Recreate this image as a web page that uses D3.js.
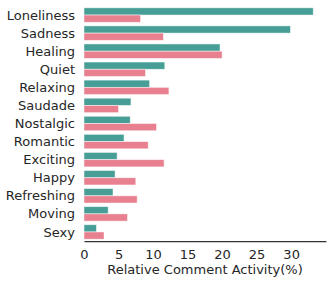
<!DOCTYPE html>
<html>
<head>
<meta charset="utf-8">
<script src="https://cdn.jsdelivr.net/npm/d3@7"></script>
<style>
  body { margin: 0; background: #fff; }
  text { font-family: "DejaVu Sans", sans-serif; fill: #262626; }
</style>
</head>
<body>
<div id="chart"></div>
<script>
// categories, top to bottom
var categories = ["Loneliness", "Sadness", "Healing", "Quiet", "Relaxing", "Saudade",
  "Nostalgic", "Romantic", "Exciting", "Happy", "Refreshing", "Moving", "Sexy"];
// first series (teal) and second series (pink), in %
var tealValues = [33.2, 29.9, 19.7, 11.7, 9.5, 6.8, 6.7, 5.8, 4.8, 4.5, 4.2, 3.5, 1.8];
var pinkValues = [8.2, 11.5, 20.0, 8.9, 12.3, 5.0, 10.5, 9.3, 11.6, 7.5, 7.7, 6.3, 2.9];
var xTicks = [0, 5, 10, 15, 20, 25, 30];

var width = 332, height = 285;
var margin = { top: 6, right: 6, bottom: 44, left: 84 };
var innerW = width - margin.left - margin.right,
    innerH = height - margin.top - margin.bottom;

var svg = d3.select("#chart")
  .append("svg")
  .attr("width", width)
  .attr("height", height)
  .append("g")
  .attr("transform", "translate(" + margin.left + "," + margin.top + ")");

var x = d3.scaleLinear()
  .domain([0, 35.05])
  .range([0, innerW]);

var y = d3.scaleBand()
  .domain(categories)
  .range([0, innerH])
  .paddingInner(0.2)
  .paddingOuter(0.1);

var sub = d3.scaleBand()
  .domain(["teal", "pink"])
  .range([0, y.bandwidth()]);

var series = [
  { key: "teal", values: tealValues, color: "#469e96" },
  { key: "pink", values: pinkValues, color: "#e8808f" }
];

series.forEach(function(s) {
  svg.append("g")
    .selectAll("rect")
    .data(categories)
    .enter()
    .append("rect")
    .attr("x", x(0))
    .attr("y", function(d) { return y(d) + sub(s.key); })
    .attr("width", function(d, i) { return x(s.values[i]) - x(0); })
    .attr("height", sub.bandwidth())
    .attr("fill", s.color)
    .attr("stroke", "#fff")
    .attr("stroke-opacity", 0.6)
    .attr("stroke-width", 0.8);
});

// category labels (no spine on the left)
svg.append("g")
  .selectAll("text")
  .data(categories)
  .enter()
  .append("text")
  .attr("x", -9)
  .attr("y", function(d) { return y(d) + y.bandwidth() / 2; })
  .attr("dy", "0.35em")
  .attr("text-anchor", "end")
  .style("font-size", "13px")
  .text(function(d) { return d; });

// bottom axis: spine and labels, no tick marks
var xAxis = svg.append("g")
  .attr("transform", "translate(0," + innerH + ")")
  .call(d3.axisBottom(x).tickValues(xTicks).tickSize(0).tickPadding(9));
xAxis.select(".domain").attr("stroke", "#333").attr("stroke-width", 1.25);
xAxis.selectAll("text")
  .style("font-family", "DejaVu Sans, sans-serif")
  .style("font-size", "13px")
  .attr("fill", "#262626");

svg.append("text")
  .attr("x", innerW / 2)
  .attr("y", innerH + 33)
  .attr("text-anchor", "middle")
  .style("font-size", "13px")
  .text("Relative Comment Activity(%)");
</script>
</body>
</html>
